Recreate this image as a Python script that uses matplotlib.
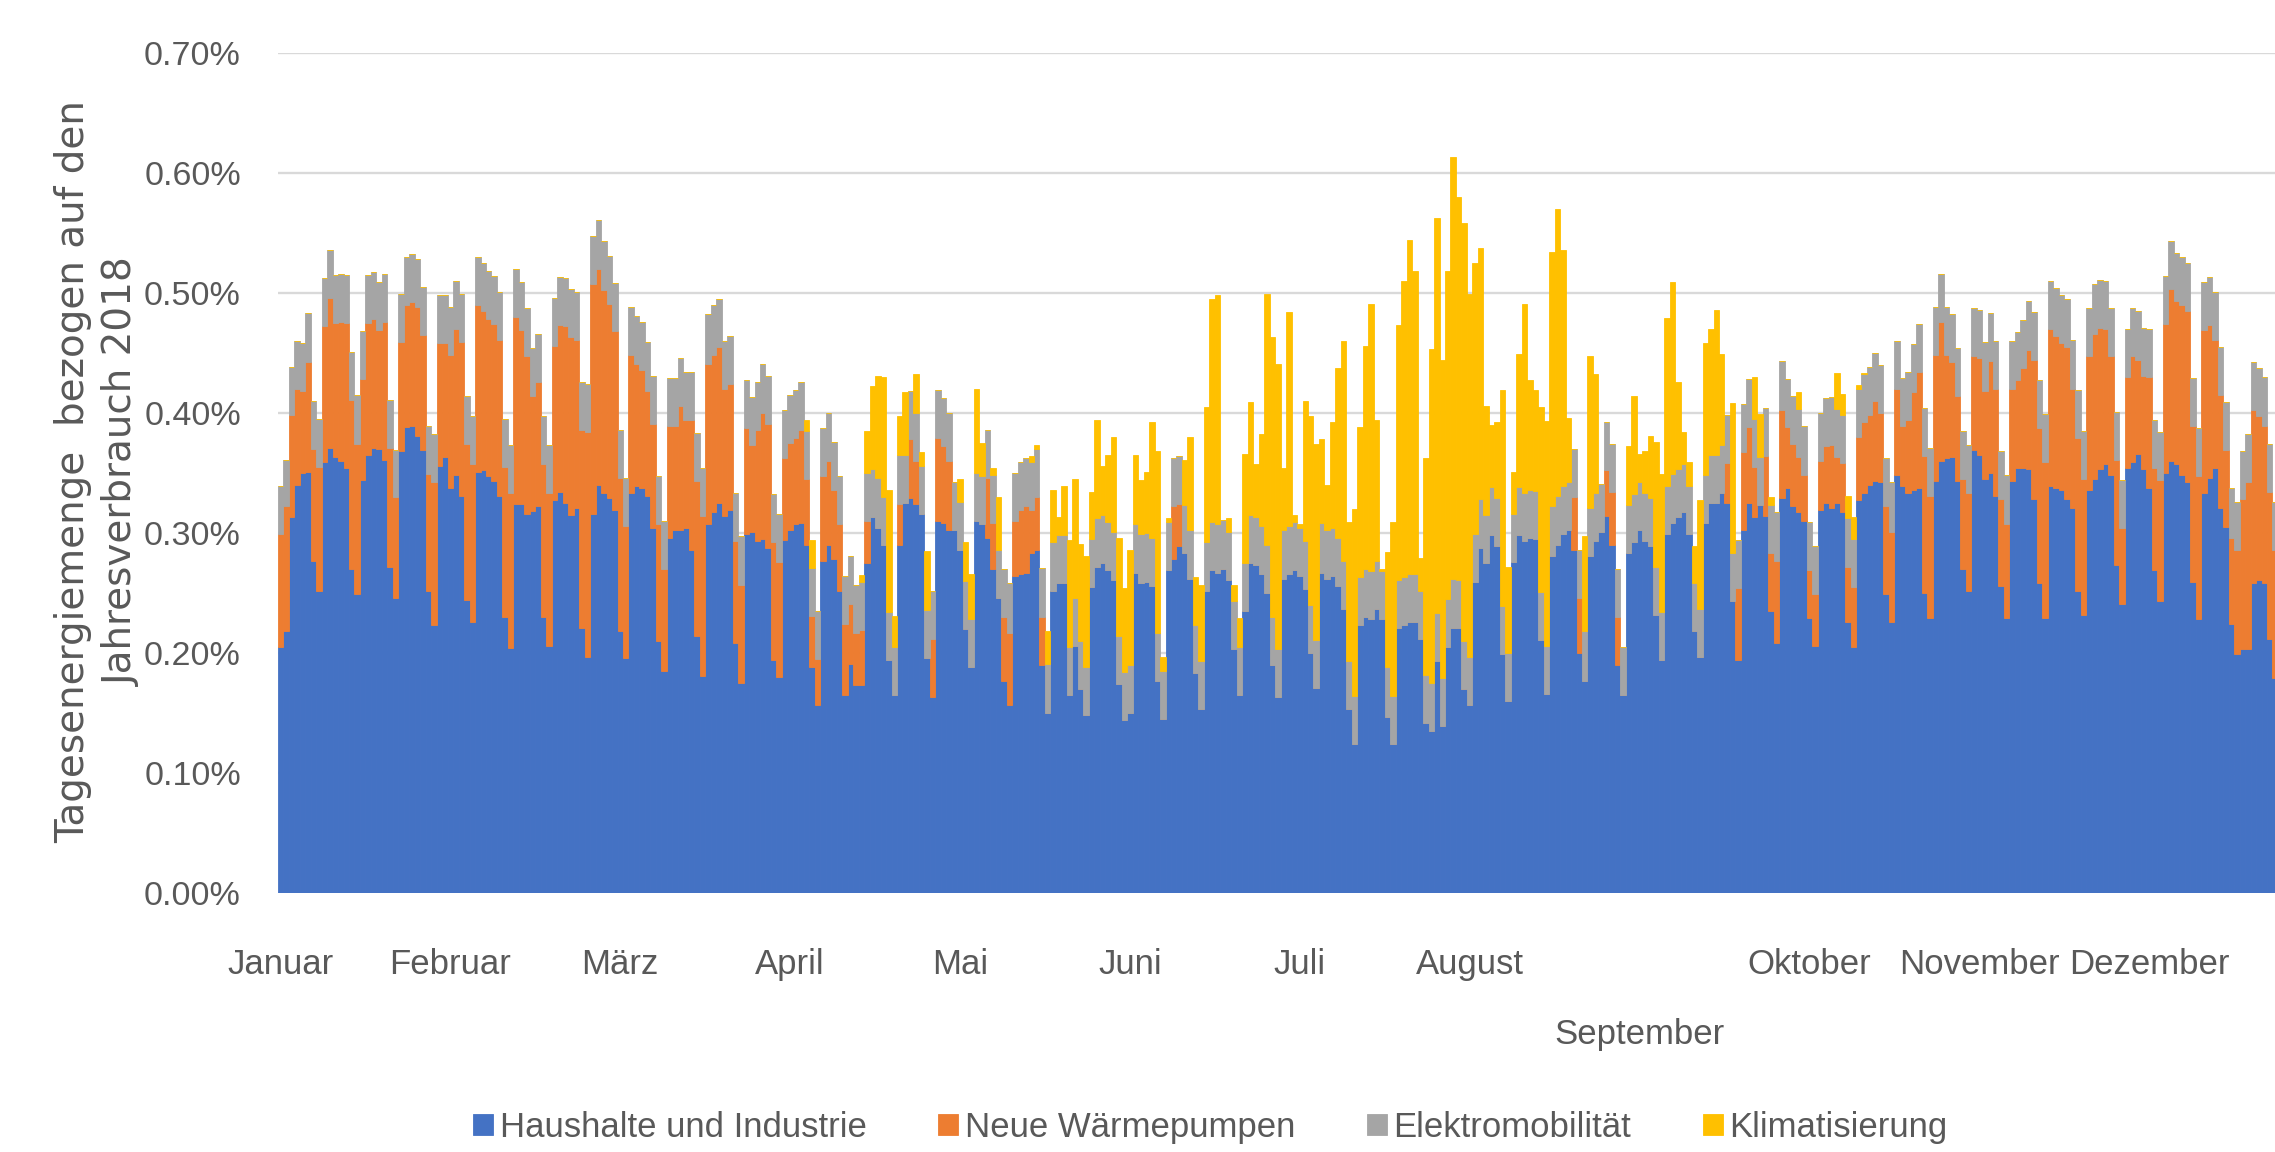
import matplotlib
matplotlib.use("Agg")
import matplotlib.pyplot as plt
import numpy as np
from matplotlib.transforms import ScaledTranslation

# ---- data (share of annual consumption, in %) ----
months = ["Januar", "Februar", "März", "April", "Mai", "Juni", "Juli",
          "August", "September", "Oktober", "November", "Dezember"]
series_names = ["Haushalte und Industrie", "Neue Wärmepumpen",
                "Elektromobilität", "Klimatisierung"]

haushalte = [
    0.205, 0.218, 0.313, 0.340, 0.350, 0.351, 0.277, 0.252, 0.359, 0.371,
    0.363, 0.360, 0.354, 0.270, 0.249, 0.344, 0.365, 0.371, 0.370, 0.361,
    0.272, 0.246, 0.368, 0.388, 0.389, 0.381, 0.369, 0.252, 0.223, 0.356,
    0.363, 0.337, 0.348, 0.331, 0.244, 0.226, 0.351, 0.352, 0.347, 0.343,
    0.331, 0.230, 0.204, 0.324, 0.324, 0.316, 0.318, 0.322, 0.230, 0.206,
    0.327, 0.334, 0.325, 0.315, 0.321, 0.221, 0.197, 0.316, 0.340, 0.333,
    0.329, 0.319, 0.218, 0.196, 0.333, 0.339, 0.337, 0.331, 0.304, 0.210,
    0.185, 0.296, 0.302, 0.302, 0.304, 0.286, 0.214, 0.181, 0.307, 0.317,
    0.325, 0.314, 0.319, 0.208, 0.175, 0.299, 0.301, 0.293, 0.295, 0.287,
    0.194, 0.180, 0.294, 0.302, 0.307, 0.308, 0.290, 0.188, 0.157, 0.277,
    0.290, 0.278, 0.252, 0.165, 0.191, 0.173, 0.173, 0.275, 0.313, 0.304,
    0.290, 0.194, 0.165, 0.290, 0.325, 0.329, 0.324, 0.316, 0.196, 0.163,
    0.310, 0.308, 0.302, 0.302, 0.286, 0.220, 0.188, 0.310, 0.307, 0.296,
    0.270, 0.246, 0.177, 0.157, 0.264, 0.266, 0.267, 0.283, 0.286, 0.190,
    0.150, 0.252, 0.258, 0.258, 0.165, 0.206, 0.170, 0.148, 0.255, 0.272,
    0.275, 0.269, 0.261, 0.174, 0.144, 0.150, 0.267, 0.258, 0.259, 0.256,
    0.177, 0.145, 0.269, 0.278, 0.289, 0.283, 0.262, 0.183, 0.153, 0.252,
    0.269, 0.267, 0.270, 0.261, 0.203, 0.165, 0.235, 0.275, 0.273, 0.266,
    0.250, 0.190, 0.163, 0.262, 0.266, 0.269, 0.264, 0.253, 0.200, 0.171,
    0.267, 0.262, 0.264, 0.256, 0.237, 0.153, 0.124, 0.223, 0.230, 0.228,
    0.237, 0.228, 0.147, 0.124, 0.221, 0.223, 0.226, 0.226, 0.212, 0.142,
    0.135, 0.193, 0.139, 0.205, 0.221, 0.221, 0.170, 0.157, 0.259, 0.287,
    0.275, 0.298, 0.289, 0.199, 0.160, 0.276, 0.298, 0.293, 0.296, 0.295,
    0.211, 0.166, 0.281, 0.290, 0.299, 0.302, 0.286, 0.200, 0.177, 0.281,
    0.293, 0.301, 0.314, 0.290, 0.190, 0.165, 0.283, 0.292, 0.302, 0.293,
    0.289, 0.232, 0.194, 0.299, 0.308, 0.313, 0.317, 0.299, 0.218, 0.197,
    0.308, 0.325, 0.325, 0.333, 0.325, 0.243, 0.194, 0.302, 0.325, 0.313,
    0.323, 0.314, 0.235, 0.208, 0.329, 0.337, 0.322, 0.317, 0.310, 0.229,
    0.206, 0.319, 0.325, 0.321, 0.325, 0.317, 0.226, 0.205, 0.327, 0.333,
    0.340, 0.343, 0.342, 0.249, 0.226, 0.348, 0.339, 0.333, 0.336, 0.337,
    0.250, 0.229, 0.343, 0.360, 0.362, 0.363, 0.343, 0.270, 0.252, 0.369,
    0.365, 0.345, 0.350, 0.331, 0.256, 0.229, 0.343, 0.354, 0.354, 0.353,
    0.328, 0.258, 0.229, 0.339, 0.337, 0.336, 0.328, 0.321, 0.252, 0.232,
    0.336, 0.345, 0.353, 0.357, 0.348, 0.273, 0.241, 0.354, 0.359, 0.366,
    0.353, 0.337, 0.269, 0.243, 0.350, 0.360, 0.357, 0.348, 0.342, 0.259,
    0.228, 0.333, 0.346, 0.354, 0.321, 0.305, 0.224, 0.199, 0.203, 0.203,
    0.258, 0.261, 0.258, 0.212, 0.179,
]

waermepumpen = [
    0.094, 0.104, 0.085, 0.080, 0.068, 0.091, 0.093, 0.103, 0.113, 0.125,
    0.112, 0.116, 0.121, 0.141, 0.125, 0.084, 0.110, 0.107, 0.099, 0.115,
    0.099, 0.084, 0.091, 0.102, 0.103, 0.107, 0.096, 0.097, 0.119, 0.102,
    0.095, 0.111, 0.122, 0.128, 0.130, 0.131, 0.139, 0.133, 0.131, 0.131,
    0.130, 0.125, 0.129, 0.156, 0.145, 0.131, 0.096, 0.104, 0.127, 0.127,
    0.129, 0.139, 0.147, 0.148, 0.140, 0.165, 0.187, 0.191, 0.180, 0.169,
    0.162, 0.149, 0.128, 0.110, 0.115, 0.102, 0.099, 0.087, 0.087, 0.097,
    0.085, 0.093, 0.087, 0.104, 0.090, 0.108, 0.129, 0.133, 0.134, 0.131,
    0.130, 0.106, 0.105, 0.085, 0.082, 0.088, 0.072, 0.093, 0.105, 0.104,
    0.098, 0.096, 0.068, 0.073, 0.072, 0.078, 0.055, 0.043, 0.038, 0.070,
    0.070, 0.058, 0.055, 0.059, 0.050, 0.044, 0.046, 0.035, 0.000, 0.000,
    0.000, 0.000, 0.000, 0.034, 0.000, 0.049, 0.036, 0.000, 0.000, 0.049,
    0.069, 0.064, 0.058, 0.000, 0.000, 0.000, 0.000, 0.000, 0.000, 0.050,
    0.038, 0.000, 0.053, 0.060, 0.046, 0.053, 0.055, 0.036, 0.044, 0.040,
    0.000, 0.000, 0.000, 0.000, 0.000, 0.000, 0.000, 0.000, 0.000, 0.000,
    0.000, 0.000, 0.000, 0.000, 0.000, 0.000, 0.000, 0.000, 0.000, 0.000,
    0.000, 0.000, 0.000, 0.044, 0.035, 0.000, 0.000, 0.000, 0.000, 0.000,
    0.000, 0.000, 0.000, 0.000, 0.000, 0.000, 0.000, 0.000, 0.000, 0.000,
    0.000, 0.000, 0.000, 0.000, 0.000, 0.000, 0.000, 0.000, 0.000, 0.000,
    0.000, 0.000, 0.000, 0.000, 0.000, 0.000, 0.000, 0.000, 0.000, 0.000,
    0.000, 0.000, 0.000, 0.000, 0.000, 0.000, 0.000, 0.000, 0.000, 0.000,
    0.000, 0.000, 0.000, 0.000, 0.000, 0.000, 0.000, 0.000, 0.000, 0.000,
    0.000, 0.000, 0.000, 0.000, 0.000, 0.000, 0.000, 0.000, 0.000, 0.000,
    0.000, 0.000, 0.000, 0.000, 0.000, 0.000, 0.044, 0.046, 0.000, 0.000,
    0.000, 0.000, 0.038, 0.044, 0.040, 0.000, 0.000, 0.000, 0.000, 0.000,
    0.000, 0.000, 0.000, 0.000, 0.000, 0.000, 0.000, 0.000, 0.000, 0.000,
    0.000, 0.000, 0.000, 0.000, 0.033, 0.000, 0.060, 0.065, 0.063, 0.042,
    0.000, 0.050, 0.048, 0.069, 0.073, 0.051, 0.052, 0.046, 0.038, 0.040,
    0.043, 0.041, 0.047, 0.052, 0.038, 0.041, 0.046, 0.050, 0.053, 0.059,
    0.058, 0.067, 0.058, 0.073, 0.075, 0.072, 0.050, 0.061, 0.081, 0.097,
    0.114, 0.102, 0.105, 0.116, 0.086, 0.079, 0.071, 0.075, 0.081, 0.078,
    0.081, 0.073, 0.093, 0.089, 0.072, 0.078, 0.077, 0.073, 0.083, 0.099,
    0.116, 0.129, 0.130, 0.131, 0.127, 0.122, 0.127, 0.099, 0.127, 0.113,
    0.111, 0.121, 0.118, 0.113, 0.099, 0.088, 0.063, 0.076, 0.088, 0.078,
    0.078, 0.093, 0.085, 0.101, 0.124, 0.143, 0.136, 0.142, 0.143, 0.130,
    0.119, 0.136, 0.127, 0.107, 0.094, 0.064, 0.072, 0.087, 0.125, 0.139,
    0.144, 0.136, 0.131, 0.122, 0.107,
]

elektromobilitaet = [
    0.040, 0.039, 0.040, 0.040, 0.040, 0.041, 0.040, 0.040, 0.040, 0.040,
    0.040, 0.040, 0.040, 0.040, 0.041, 0.040, 0.040, 0.039, 0.040, 0.040,
    0.040, 0.039, 0.040, 0.040, 0.040, 0.040, 0.040, 0.040, 0.040, 0.040,
    0.040, 0.040, 0.040, 0.040, 0.040, 0.040, 0.040, 0.040, 0.040, 0.040,
    0.040, 0.040, 0.040, 0.040, 0.040, 0.040, 0.040, 0.040, 0.040, 0.040,
    0.040, 0.040, 0.040, 0.040, 0.040, 0.040, 0.040, 0.040, 0.041, 0.041,
    0.040, 0.040, 0.040, 0.040, 0.040, 0.040, 0.040, 0.041, 0.040, 0.040,
    0.040, 0.040, 0.040, 0.040, 0.040, 0.040, 0.040, 0.040, 0.041, 0.042,
    0.040, 0.040, 0.040, 0.040, 0.040, 0.040, 0.040, 0.040, 0.041, 0.040,
    0.040, 0.040, 0.040, 0.040, 0.040, 0.040, 0.040, 0.040, 0.040, 0.040,
    0.040, 0.040, 0.040, 0.040, 0.040, 0.040, 0.040, 0.040, 0.040, 0.042,
    0.040, 0.040, 0.040, 0.041, 0.040, 0.040, 0.040, 0.040, 0.040, 0.040,
    0.040, 0.040, 0.040, 0.040, 0.040, 0.040, 0.040, 0.040, 0.040, 0.040,
    0.040, 0.040, 0.040, 0.041, 0.040, 0.040, 0.040, 0.040, 0.040, 0.041,
    0.041, 0.040, 0.040, 0.040, 0.040, 0.040, 0.040, 0.040, 0.040, 0.040,
    0.040, 0.040, 0.040, 0.040, 0.040, 0.040, 0.040, 0.041, 0.041, 0.040,
    0.040, 0.040, 0.040, 0.040, 0.040, 0.040, 0.040, 0.040, 0.040, 0.040,
    0.040, 0.040, 0.041, 0.040, 0.040, 0.040, 0.040, 0.040, 0.040, 0.040,
    0.040, 0.040, 0.040, 0.040, 0.040, 0.040, 0.040, 0.040, 0.040, 0.040,
    0.041, 0.040, 0.040, 0.040, 0.040, 0.040, 0.040, 0.040, 0.040, 0.040,
    0.040, 0.040, 0.041, 0.040, 0.040, 0.040, 0.040, 0.040, 0.040, 0.040,
    0.040, 0.040, 0.040, 0.040, 0.041, 0.040, 0.040, 0.040, 0.040, 0.041,
    0.040, 0.040, 0.040, 0.040, 0.040, 0.040, 0.040, 0.040, 0.040, 0.040,
    0.040, 0.040, 0.041, 0.041, 0.040, 0.040, 0.040, 0.040, 0.041, 0.040,
    0.040, 0.040, 0.040, 0.040, 0.040, 0.040, 0.040, 0.040, 0.040, 0.040,
    0.040, 0.040, 0.040, 0.040, 0.041, 0.040, 0.040, 0.040, 0.040, 0.040,
    0.040, 0.040, 0.040, 0.040, 0.040, 0.040, 0.040, 0.040, 0.040, 0.040,
    0.040, 0.040, 0.040, 0.040, 0.041, 0.040, 0.040, 0.040, 0.041, 0.040,
    0.040, 0.040, 0.040, 0.040, 0.040, 0.040, 0.040, 0.040, 0.040, 0.040,
    0.040, 0.040, 0.040, 0.040, 0.041, 0.040, 0.040, 0.040, 0.040, 0.040,
    0.040, 0.040, 0.040, 0.040, 0.040, 0.040, 0.040, 0.040, 0.040, 0.040,
    0.040, 0.041, 0.040, 0.040, 0.040, 0.041, 0.040, 0.040, 0.040, 0.041,
    0.040, 0.040, 0.040, 0.040, 0.040, 0.040, 0.040, 0.041, 0.040, 0.040,
    0.040, 0.041, 0.040, 0.040, 0.040, 0.040, 0.040, 0.040, 0.040, 0.041,
    0.040, 0.040, 0.040, 0.040, 0.040, 0.040, 0.040, 0.040, 0.040, 0.040,
    0.040, 0.040, 0.040, 0.040, 0.040, 0.040, 0.041, 0.040, 0.040, 0.040,
    0.040, 0.040, 0.041, 0.040, 0.040,
]

klimatisierung = [
    0.000, 0.000, 0.000, 0.000, 0.000, 0.000, 0.000, 0.000, 0.000, 0.000,
    0.000, 0.000, 0.000, 0.000, 0.000, 0.000, 0.000, 0.000, 0.000, 0.000,
    0.000, 0.000, 0.000, 0.000, 0.000, 0.000, 0.000, 0.000, 0.000, 0.000,
    0.000, 0.000, 0.000, 0.000, 0.000, 0.000, 0.000, 0.000, 0.000, 0.000,
    0.000, 0.000, 0.000, 0.000, 0.000, 0.000, 0.000, 0.000, 0.000, 0.000,
    0.000, 0.000, 0.000, 0.000, 0.000, 0.000, 0.000, 0.000, 0.000, 0.000,
    0.000, 0.000, 0.000, 0.000, 0.000, 0.000, 0.000, 0.000, 0.000, 0.000,
    0.000, 0.000, 0.000, 0.000, 0.000, 0.000, 0.000, 0.000, 0.000, 0.000,
    0.000, 0.000, 0.000, 0.000, 0.000, 0.000, 0.000, 0.000, 0.000, 0.000,
    0.000, 0.000, 0.000, 0.000, 0.000, 0.000, 0.009, 0.023, 0.000, 0.000,
    0.000, 0.000, 0.000, 0.000, 0.000, 0.000, 0.006, 0.035, 0.069, 0.085,
    0.100, 0.102, 0.026, 0.032, 0.052, 0.000, 0.032, 0.011, 0.049, 0.000,
    0.000, 0.000, 0.000, 0.000, 0.019, 0.032, 0.038, 0.070, 0.028, 0.000,
    0.006, 0.044, 0.000, 0.000, 0.000, 0.000, 0.000, 0.005, 0.003, 0.000,
    0.027, 0.044, 0.015, 0.041, 0.089, 0.099, 0.081, 0.093, 0.039, 0.082,
    0.041, 0.056, 0.079, 0.082, 0.070, 0.096, 0.058, 0.045, 0.051, 0.096,
    0.151, 0.012, 0.003, 0.000, 0.000, 0.038, 0.078, 0.040, 0.064, 0.113,
    0.186, 0.191, 0.000, 0.011, 0.014, 0.024, 0.091, 0.094, 0.044, 0.076,
    0.209, 0.233, 0.238, 0.052, 0.178, 0.006, 0.003, 0.117, 0.157, 0.163,
    0.070, 0.038, 0.088, 0.141, 0.183, 0.116, 0.156, 0.125, 0.186, 0.223,
    0.117, 0.002, 0.096, 0.145, 0.212, 0.247, 0.278, 0.252, 0.027, 0.180,
    0.278, 0.329, 0.265, 0.273, 0.351, 0.319, 0.348, 0.302, 0.226, 0.209,
    0.091, 0.052, 0.063, 0.180, 0.072, 0.035, 0.111, 0.158, 0.091, 0.084,
    0.154, 0.187, 0.212, 0.239, 0.197, 0.054, 0.000, 0.000, 0.079, 0.126,
    0.099, 0.000, 0.000, 0.000, 0.000, 0.000, 0.049, 0.082, 0.024, 0.035,
    0.052, 0.104, 0.115, 0.140, 0.160, 0.073, 0.027, 0.020, 0.031, 0.090,
    0.110, 0.105, 0.121, 0.076, 0.000, 0.125, 0.000, 0.000, 0.000, 0.035,
    0.036, 0.000, 0.007, 0.000, 0.000, 0.000, 0.000, 0.014, 0.000, 0.000,
    0.000, 0.000, 0.000, 0.000, 0.030, 0.018, 0.019, 0.018, 0.003, 0.001,
    0.000, 0.000, 0.000, 0.000, 0.000, 0.000, 0.000, 0.000, 0.000, 0.000,
    0.000, 0.000, 0.000, 0.000, 0.000, 0.000, 0.000, 0.000, 0.000, 0.000,
    0.000, 0.000, 0.000, 0.000, 0.000, 0.000, 0.000, 0.000, 0.000, 0.000,
    0.000, 0.000, 0.000, 0.000, 0.000, 0.000, 0.000, 0.000, 0.000, 0.000,
    0.000, 0.000, 0.000, 0.000, 0.000, 0.000, 0.000, 0.000, 0.000, 0.000,
    0.000, 0.000, 0.000, 0.000, 0.000, 0.000, 0.000, 0.000, 0.000, 0.000,
    0.000, 0.000, 0.000, 0.000, 0.000, 0.000, 0.000, 0.000, 0.000, 0.000,
    0.000, 0.000, 0.000, 0.000, 0.000,
]

y_ticks = [0.0, 0.1, 0.2, 0.3, 0.4, 0.5, 0.6, 0.7]
month_tick_days = [0, 31, 62, 93, 124, 155, 186, 217, 248, 279, 310, 341]

colors = ["#4472C4", "#ED7D31", "#A5A5A5", "#FFC000"]
TEXT = "#595959"
SANS = ["Liberation Sans", "DejaVu Sans"]
FS = 24.5

# ---- figure ----
fig = plt.figure(figsize=(22.75, 11.52), dpi=100)
ax = fig.add_axes([0.1221, 0.2249, 0.8792, 0.7292])

days = np.arange(len(haushalte))
series = [haushalte, waermepumpen, elektromobilitaet, klimatisierung]
bottom = np.zeros(len(days))
handles = []
for vals, col, name in zip(series, colors, series_names):
    v = np.asarray(vals)
    h = ax.bar(days, v, bottom=bottom, width=1.0, color=col,
               edgecolor=col, linewidth=0.6, label=name)
    handles.append(h)
    bottom = bottom + v

ax.set_xlim(-0.5, len(days) - 0.5)
ax.set_ylim(0, 0.7)
ax.set_yticks(y_ticks)
ax.set_yticklabels([f"{t:.2f}%" for t in y_ticks], fontsize=FS,
                   color=TEXT, family=SANS)
ax.yaxis.grid(True, color="#D9D9D9", linewidth=1.7)
ax.set_axisbelow(True)
for s in ax.spines.values():
    s.set_visible(False)

ax.set_xticks(month_tick_days)
ax.set_xticklabels(months, fontsize=25, color=TEXT, family=SANS)
ax.tick_params(axis="x", length=0, pad=40)
ax.tick_params(axis="y", length=0, pad=26.5)
sep = ax.get_xticklabels()[8]
sep.set_transform(sep.get_transform() +
                  ScaledTranslation(0, -0.70, fig.dpi_scale_trans))

fig.text(0.0428, 0.591,
         "Tagesenergiemenge  bezogen auf den\nJahresverbrauch 2018",
         rotation=90, ha="center", va="center", multialignment="center",
         fontsize=28, color=TEXT, family="DejaVu Sans", linespacing=1.35)

fig.legend(handles, series_names, loc="center", bbox_to_anchor=(0.532, 0.0215),
           ncol=4, frameon=False, prop={"family": SANS, "size": 25},
           labelcolor=TEXT, handlelength=0.58, handleheight=0.58,
           handletextpad=0.2, columnspacing=2.05)

fig.savefig("out.png", dpi=100)
